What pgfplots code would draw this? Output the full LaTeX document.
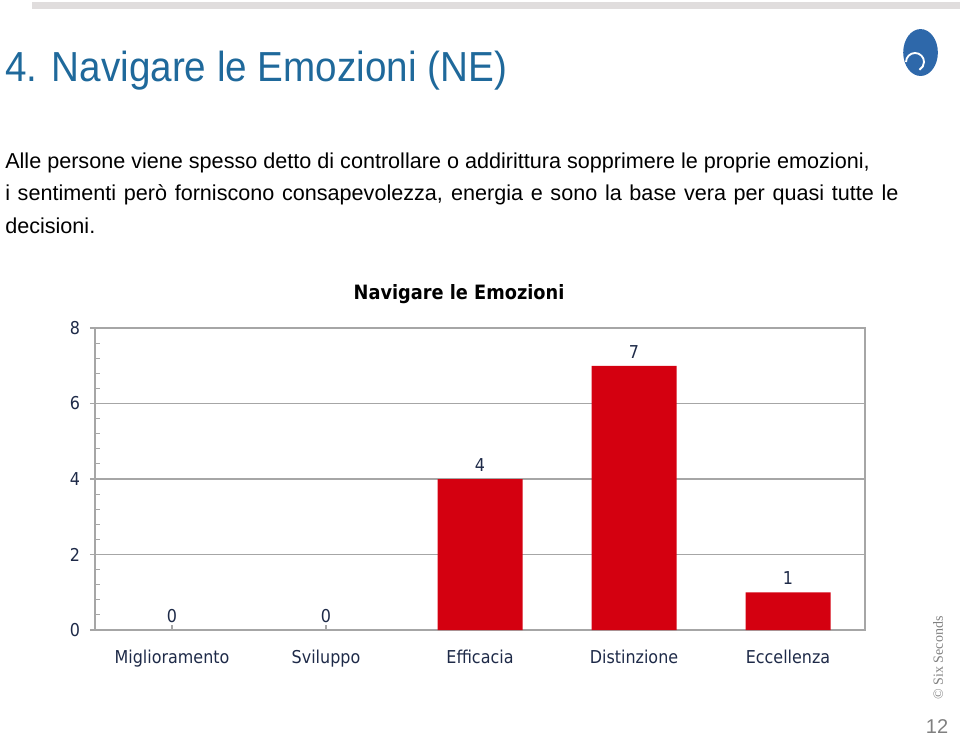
\documentclass[border=0pt]{standalone}
\usepackage{pgfplots}
\pgfplotsset{compat=1.18}
\usepackage{fontspec}
\setmainfont{Liberation Sans}
\newfontfamily\chartfont[FakeStretch=0.9]{DejaVu Sans}
\newfontfamily\titlefont[FakeStretch=0.92]{Liberation Sans}
\newfontfamily\seriffont{Liberation Serif}
\definecolor{titleblue}{RGB}{31,105,155}
\definecolor{barred}{RGB}{212,0,16}
\definecolor{navy}{RGB}{30,42,72}
\definecolor{gridgray}{RGB}{166,166,166}
\definecolor{topbar}{RGB}{224,221,221}
\definecolor{logoblue}{RGB}{46,104,170}
\begin{document}
\begin{tikzpicture}
\path[use as bounding box] (0,0) rectangle (720pt,552pt);
\fill[topbar] (24pt,545.25pt) rectangle (720pt,550.5pt);
\node[anchor=base west, inner sep=0pt, text=titleblue, font=\titlefont\fontsize{31.5}{36}\selectfont] at (3.75pt,490.5pt) {4. Navigare le Emozioni (NE)};
\node[anchor=base west, inner sep=0pt, font=\fontsize{16.2}{19}\selectfont] at (3.75pt,425.25pt) {Alle persone viene spesso detto di controllare o addirittura sopprimere le proprie emozioni,};
\node[anchor=base west, inner sep=0pt, font=\fontsize{16.2}{19}\selectfont] at (3.75pt,401.25pt) {\makebox[670pt][s]{i sentimenti però forniscono consapevolezza, energia e sono la base vera per quasi tutte le}};
\node[anchor=base west, inner sep=0pt, font=\fontsize{16.2}{19}\selectfont] at (3.75pt,376.5pt) {decisioni.};
% logo
\fill[logoblue] (690.4pt,512.6pt) ellipse [x radius=13pt, y radius=17.6pt];
\draw[white, line width=1.4pt] (679.5pt,505.5pt) arc [start angle=180, end angle=-60, radius=6.75pt];
\node[rotate=90, text=gray, font=\seriffont\fontsize{10.5}{12}\selectfont] at (703.5pt,58.5pt) {\textcopyright\ Six Seconds};
\node[anchor=south, inner sep=0pt, text=gray, font=\fontsize{15}{17}\selectfont] at (702.75pt,1.5pt) {12};
\node[text=black, font=\chartfont\bfseries\fontsize{14.8}{17}\selectfont] at (344.25pt,331.5pt) {Navigare le Emozioni};
\begin{axis}[
  at={(71.25pt,79.5pt)}, anchor=south west, scale only axis,
  width=577.5pt, height=226.5pt,
  ybar, bar width=63.75pt, bar shift=0pt,
  xmin=-0.5, xmax=4.5, ymin=0, ymax=8,
  xtick={0,1,2,3,4},
  xticklabels={Miglioramento,Sviluppo,Efficacia,Distinzione,Eccellenza},
  xtick pos=bottom, ytick pos=left,
  ytick={0,2,4,6,8}, minor y tick num=4,
  ymajorgrids, grid style={gridgray, line width=0.9pt},
  axis line style={gridgray, line width=0.9pt},
  tick style={gridgray, line width=0.8pt},
  tick align=outside, major tick length=3.75pt, minor tick length=3.75pt,
  minor y tick style={xshift=3.75pt},
  xtick style={yshift=3.5pt},
  /pgf/number format/assume math mode=true,
  ticklabel style={font=\chartfont\fontsize{13.3}{16}\selectfont, text=navy},
  xticklabel style={yshift=-8pt},
  yticklabel style={xshift=-4pt},
  nodes near coords,
  every node near coord/.append style={font=\chartfont\fontsize{13.3}{16}\selectfont, text=navy, yshift=2pt},
]
\addplot[fill=barred, draw=none] coordinates {(2,4) (3,7) (4,1)};
\addplot[draw=none, fill=none] coordinates {(0,0) (1,0)};
\pgfplotsinvokeforeach{-0.5,0.5,1.5,2.5,3.5,4.5}{
  \draw[gridgray, line width=0.8pt] (axis cs:#1,0) -- ++(0,-3.75pt);
}
\end{axis}
\end{tikzpicture}
\end{document}
